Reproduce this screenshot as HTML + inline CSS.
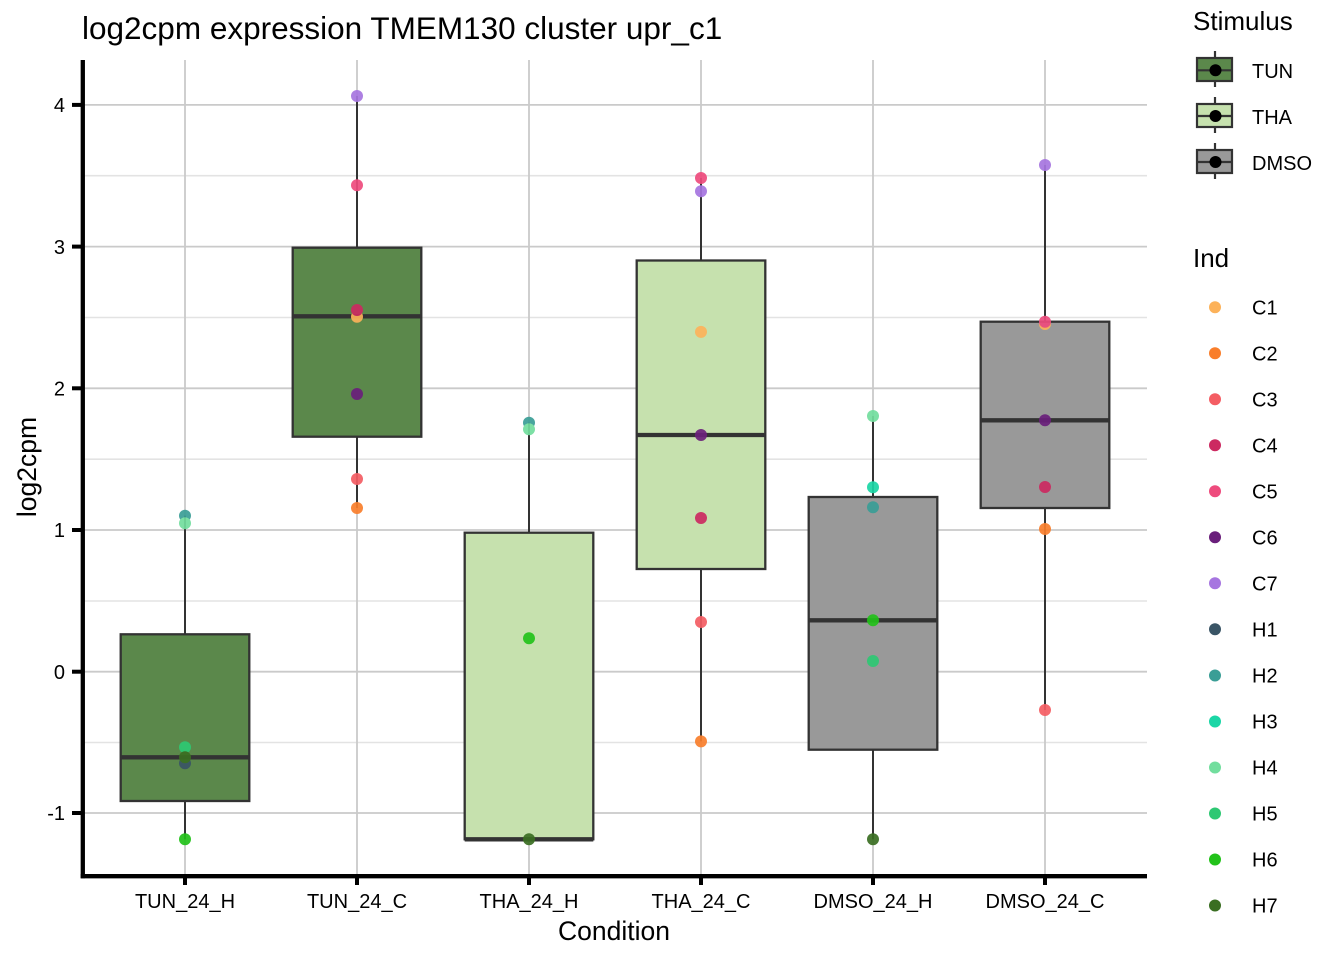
<!DOCTYPE html>
<html><head><meta charset="utf-8"><style>
html,body{margin:0;padding:0;background:#fff;}
svg{display:block;font-family:"Liberation Sans",Arial,sans-serif;}
</style></head><body>
<svg width="1344" height="960" viewBox="0 0 1344 960" xmlns="http://www.w3.org/2000/svg">
<rect width="1344" height="960" fill="#fff"/>
<!-- title -->
<text x="82" y="39" font-size="31.5" fill="#000">log2cpm expression TMEM130 cluster upr_c1</text>
<!-- minor grid -->
<g stroke="#e3e3e3" stroke-width="1.6">
<line x1="84" x2="1147" y1="175.7" y2="175.7"/>
<line x1="84" x2="1147" y1="317.5" y2="317.5"/>
<line x1="84" x2="1147" y1="459.2" y2="459.2"/>
<line x1="84" x2="1147" y1="601" y2="601"/>
<line x1="84" x2="1147" y1="742.5" y2="742.5"/>
</g>
<!-- major grid -->
<g stroke="#cacaca" stroke-width="1.8">
<line x1="84" x2="1147" y1="104.9" y2="104.9"/>
<line x1="84" x2="1147" y1="246.6" y2="246.6"/>
<line x1="84" x2="1147" y1="388.3" y2="388.3"/>
<line x1="84" x2="1147" y1="530" y2="530"/>
<line x1="84" x2="1147" y1="671.7" y2="671.7"/>
<line x1="84" x2="1147" y1="813" y2="813"/>
<line x1="185" x2="185" y1="60" y2="874"/>
<line x1="357" x2="357" y1="60" y2="874"/>
<line x1="529" x2="529" y1="60" y2="874"/>
<line x1="701" x2="701" y1="60" y2="874"/>
<line x1="873" x2="873" y1="60" y2="874"/>
<line x1="1045" x2="1045" y1="60" y2="874"/>
</g>
<!-- whiskers -->
<g stroke="#333" stroke-width="2">
<line x1="185" x2="185" y1="634.3" y2="515.7"/>
<line x1="185" x2="185" y1="801" y2="839.3"/>
<line x1="357" x2="357" y1="247.7" y2="96"/>
<line x1="357" x2="357" y1="436.7" y2="508"/>
<line x1="529" x2="529" y1="532.7" y2="422.7"/>
<line x1="701" x2="701" y1="260.5" y2="178"/>
<line x1="701" x2="701" y1="569" y2="741.4"/>
<line x1="873" x2="873" y1="497" y2="416"/>
<line x1="873" x2="873" y1="749.7" y2="839.3"/>
<line x1="1045" x2="1045" y1="321.7" y2="165"/>
<line x1="1045" x2="1045" y1="508" y2="710"/>
</g>
<!-- boxes -->
<g stroke="#333" stroke-width="2.3">
<rect x="120.7" y="634.3" width="128.6" height="166.7" fill="#5b884b"/>
<rect x="292.7" y="247.7" width="128.6" height="189" fill="#5b884b"/>
<rect x="464.7" y="532.7" width="128.6" height="306.6" fill="#c6e1ae"/>
<rect x="636.7" y="260.5" width="128.6" height="308.5" fill="#c6e1ae"/>
<rect x="808.7" y="497" width="128.6" height="252.7" fill="#999999"/>
<rect x="980.7" y="321.7" width="128.6" height="186.3" fill="#999999"/>
</g>
<!-- medians -->
<g stroke="#333" stroke-width="4.3">
<line x1="120.7" x2="249.3" y1="757.3" y2="757.3"/>
<line x1="292.7" x2="421.3" y1="316.3" y2="316.3"/>
<line x1="464.7" x2="593.3" y1="839.3" y2="839.3"/>
<line x1="636.7" x2="765.3" y1="435" y2="435"/>
<line x1="808.7" x2="937.3" y1="620.3" y2="620.3"/>
<line x1="980.7" x2="1109.3" y1="420.3" y2="420.3"/>
</g>
<!-- points -->
<g opacity="0.92">
<!-- TUN_24_H -->
<circle cx="185" cy="515.7" r="6" fill="#3a9e96"/>
<circle cx="185" cy="523.3" r="6" fill="#72de9e"/>
<circle cx="185" cy="763.3" r="6" fill="#3a5566"/>
<circle cx="185" cy="747.3" r="6" fill="#2ec873"/>
<circle cx="185" cy="839.3" r="6" fill="#22c21a"/>
<circle cx="185" cy="757.3" r="6" fill="#3a6e22"/>
<!-- TUN_24_C -->
<circle cx="357" cy="316.7" r="6" fill="#fcb25a"/>
<circle cx="357" cy="508" r="6" fill="#f97e2b"/>
<circle cx="357" cy="479" r="6" fill="#f45d63"/>
<circle cx="357" cy="310" r="6" fill="#cc2a61"/>
<circle cx="357" cy="185.3" r="6" fill="#ee4b7d"/>
<circle cx="357" cy="394" r="6" fill="#6a1f7b"/>
<circle cx="357" cy="96" r="6" fill="#a675e0"/>
<!-- THA_24_H -->
<circle cx="529" cy="422.7" r="6" fill="#3a9e96"/>
<circle cx="529" cy="429.3" r="6" fill="#72de9e"/>
<circle cx="529" cy="638.3" r="6" fill="#22c21a"/>
<circle cx="529" cy="839.3" r="6" fill="#3a6e22"/>
<!-- THA_24_C -->
<circle cx="701" cy="331.9" r="6" fill="#fcb25a"/>
<circle cx="701" cy="741.4" r="6" fill="#f97e2b"/>
<circle cx="701" cy="622" r="6" fill="#f45d63"/>
<circle cx="701" cy="518" r="6" fill="#cc2a61"/>
<circle cx="701" cy="191.3" r="6" fill="#a675e0"/>
<circle cx="701" cy="178" r="6" fill="#ee4b7d"/>
<circle cx="701" cy="435" r="6" fill="#6a1f7b"/>
<!-- DMSO_24_H -->
<circle cx="873" cy="507.3" r="6" fill="#3a9e96"/>
<circle cx="873" cy="487.3" r="6" fill="#1bd6a6"/>
<circle cx="873" cy="416" r="6" fill="#72de9e"/>
<circle cx="873" cy="661" r="6" fill="#2ec873"/>
<circle cx="873" cy="620.3" r="6" fill="#22c21a"/>
<circle cx="873" cy="839.3" r="6" fill="#3a6e22"/>
<!-- DMSO_24_C -->
<circle cx="1045" cy="324" r="6" fill="#fcb25a"/>
<circle cx="1045" cy="529" r="6" fill="#f97e2b"/>
<circle cx="1045" cy="710" r="6" fill="#f45d63"/>
<circle cx="1045" cy="487" r="6" fill="#cc2a61"/>
<circle cx="1045" cy="321.7" r="6" fill="#ee4b7d"/>
<circle cx="1045" cy="420.3" r="6" fill="#6a1f7b"/>
<circle cx="1045" cy="165" r="6" fill="#a675e0"/>
</g>
<!-- axes -->
<g stroke="#000" stroke-width="4.3">
<line x1="82.8" x2="82.8" y1="60" y2="878.3"/>
<line x1="80.7" x2="1147" y1="876.2" y2="876.2"/>
</g>
<g stroke="#000" stroke-width="4">
<line x1="72" x2="82" y1="104.9" y2="104.9"/>
<line x1="72" x2="82" y1="246.6" y2="246.6"/>
<line x1="72" x2="82" y1="388.3" y2="388.3"/>
<line x1="72" x2="82" y1="530" y2="530"/>
<line x1="72" x2="82" y1="671.7" y2="671.7"/>
<line x1="72" x2="82" y1="813" y2="813"/>
<line x1="185" x2="185" y1="876" y2="885"/>
<line x1="357" x2="357" y1="876" y2="885"/>
<line x1="529" x2="529" y1="876" y2="885"/>
<line x1="701" x2="701" y1="876" y2="885"/>
<line x1="873" x2="873" y1="876" y2="885"/>
<line x1="1045" x2="1045" y1="876" y2="885"/>
</g>
<!-- y tick labels -->
<g font-size="20" fill="#000" text-anchor="end">
<text x="65" y="112">4</text>
<text x="65" y="254">3</text>
<text x="65" y="395.5">2</text>
<text x="65" y="537">1</text>
<text x="65" y="679">0</text>
<text x="65" y="820">-1</text>
</g>
<!-- x tick labels -->
<g font-size="20" fill="#000" text-anchor="middle">
<text x="185" y="908">TUN_24_H</text>
<text x="357" y="908">TUN_24_C</text>
<text x="529" y="908">THA_24_H</text>
<text x="701" y="908">THA_24_C</text>
<text x="873" y="908">DMSO_24_H</text>
<text x="1045" y="908">DMSO_24_C</text>
</g>
<!-- axis titles -->
<text x="614" y="940" font-size="26.5" text-anchor="middle" fill="#000">Condition</text>
<text transform="translate(36,467) rotate(-90)" font-size="26.5" text-anchor="middle" fill="#000">log2cpm</text>
<!-- legend: Stimulus -->
<text x="1193" y="30" font-size="26" fill="#000">Stimulus</text>
<g stroke="#333" stroke-width="2.2">
<line x1="1215" x2="1215" y1="51" y2="87"/>
<rect x="1197" y="58" width="35" height="23" fill="#5b884b"/>
<line x1="1197" x2="1232" y1="70.3" y2="70.3"/>
<line x1="1215" x2="1215" y1="97" y2="133"/>
<rect x="1197" y="104" width="35" height="23" fill="#c6e1ae"/>
<line x1="1197" x2="1232" y1="116" y2="116"/>
<line x1="1215" x2="1215" y1="143" y2="179"/>
<rect x="1197" y="150" width="35" height="23" fill="#999999"/>
<line x1="1197" x2="1232" y1="162" y2="162"/>
</g>
<g fill="#000">
<circle cx="1215.5" cy="70.3" r="6"/>
<circle cx="1215.5" cy="116" r="6"/>
<circle cx="1215.5" cy="162" r="6"/>
</g>
<g font-size="20" fill="#000">
<text x="1252" y="78">TUN</text>
<text x="1252" y="124">THA</text>
<text x="1252" y="170">DMSO</text>
</g>
<!-- legend: Ind -->
<text x="1193" y="267" font-size="26" fill="#000">Ind</text>
<g>
<circle cx="1215" cy="307.3" r="6" fill="#fcb25a"/>
<circle cx="1215" cy="353.3" r="6" fill="#f97e2b"/>
<circle cx="1215" cy="399.3" r="6" fill="#f45d63"/>
<circle cx="1215" cy="445.3" r="6" fill="#cc2a61"/>
<circle cx="1215" cy="491.3" r="6" fill="#ee4b7d"/>
<circle cx="1215" cy="537.3" r="6" fill="#6a1f7b"/>
<circle cx="1215" cy="583.3" r="6" fill="#a675e0"/>
<circle cx="1215" cy="629.3" r="6" fill="#3a5566"/>
<circle cx="1215" cy="675.5" r="6" fill="#3a9e96"/>
<circle cx="1215" cy="721.5" r="6" fill="#1bd6a6"/>
<circle cx="1215" cy="767.5" r="6" fill="#72de9e"/>
<circle cx="1215" cy="813.5" r="6" fill="#2ec873"/>
<circle cx="1215" cy="859.5" r="6" fill="#22c21a"/>
<circle cx="1215" cy="905.5" r="6" fill="#3a6e22"/>
</g>
<g font-size="20" fill="#000">
<text x="1252" y="314.5">C1</text>
<text x="1252" y="360.5">C2</text>
<text x="1252" y="406.5">C3</text>
<text x="1252" y="452.5">C4</text>
<text x="1252" y="498.5">C5</text>
<text x="1252" y="544.5">C6</text>
<text x="1252" y="590.5">C7</text>
<text x="1252" y="636.5">H1</text>
<text x="1252" y="682.5">H2</text>
<text x="1252" y="728.5">H3</text>
<text x="1252" y="774.5">H4</text>
<text x="1252" y="820.5">H5</text>
<text x="1252" y="866.5">H6</text>
<text x="1252" y="912.5">H7</text>
</g>
</svg>
</body></html>
